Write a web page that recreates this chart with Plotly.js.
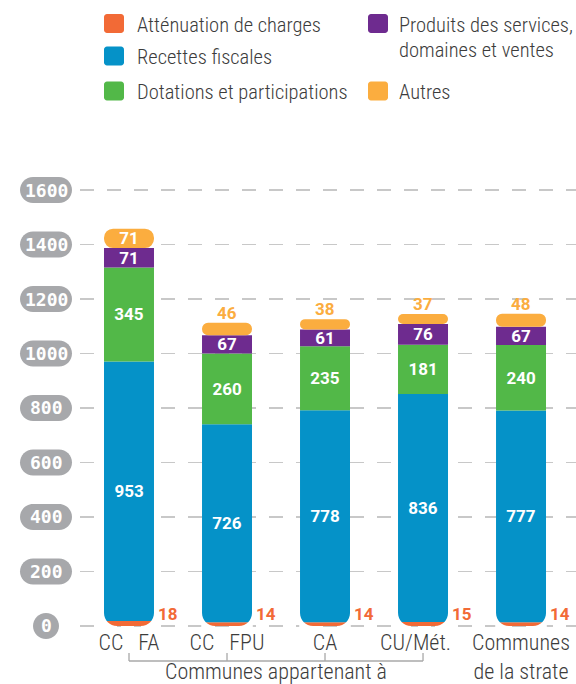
<!DOCTYPE html>
<html><head><meta charset="utf-8">
<script src="https://cdn.plot.ly/plotly-3.0.1.min.js"></script>
<style>html,body{margin:0;padding:0;background:#fff}#chart{width:576px;height:684px}</style>
</head><body><div id="chart"></div>
<script>
// ---- data ----
const categories = ['CC FA', 'CC FPU', 'CA', 'CU/Mét.', 'Communes de la strate'];
const tickLabels = ['CC\u00a0\u00a0\u00a0FA', 'CC\u00a0\u00a0\u00a0FPU', 'CA', 'CU/Mét.\u00a0\u00a0\u00a0', 'Communes<br>de la strate'];
const seriesNames = ['Atténuation de charges', 'Recettes fiscales', 'Dotations et participations', 'Produits des services,<br>domaines et ventes', 'Autres'];
const attenuation = [18, 14, 14, 15, 14];
const recettes = [953, 726, 778, 836, 777];
const dotations = [345, 260, 235, 181, 240];
const produits = [71, 67, 61, 76, 67];
const autres = [71, 46, 38, 37, 48];
const yTicks = [0, 200, 400, 600, 800, 1000, 1200, 1400, 1600];
const groupLabel = 'Communes appartenant à';
const groupMembers = [0, 1, 2, 3];

// ---- style ----
const C = {orange:'#f26a36', blue:'#0592c8', green:'#52b848', purple:'#6e2b8f', yellow:'#fbad3f',
           pill:'#a7a8ab', grid:'#c8c8c8', text:'#3c3c3c', bracket:'#a8a8a8'};
const txtFont = {family: 'Roboto Condensed, Roboto, sans-serif', size: 22, color: C.text, weight: 300};
const legFont = Object.assign({}, txtFont, {size: 20.5});
const numFont = 'Roboto, sans-serif';
const R0 = -14.7, R1 = 1746.8;           // y range
const XR = [-0.5, 4.561];                // x range
const L = 80, W = 496, T = 150, H = 480;  // plot area in px
const px2x = px => (px - L) / W;
const py2y = py => (T + H - py) / H;
const v2y = v => (v - R0) / (R1 - R0);

const lowTop = attenuation.map((v, i) => v + recettes[i]);
const greenTop = lowTop.map((v, i) => v + dotations[i]);
const purpleTop = greenTop.map((v, i) => v + produits[i]);
const total = purpleTop.map((v, i) => v + autres[i]);

const BW = 0.51, RAD = 13;
const inFont = {family: numFont, size: 17, color: '#ffffff', weight: 700};
const common = {type: 'bar', x: categories, width: BW, hoverinfo: 'skip', showlegend: false,
                constraintext: 'none', textangle: 0, cliponaxis: false};
// "Autres" label: inside the bar when the segment is tall enough, otherwise above it
const autresInside = autres.map(v => v >= 60);

const traces = [
  Object.assign({}, common, {name: seriesNames[0], y: attenuation, base: attenuation.map(() => 0),
    marker: {color: C.orange, cornerradius: 0, line: {width: 0}}}),
  Object.assign({}, common, {name: seriesNames[1], y: recettes, base: attenuation,
    marker: {color: C.blue, cornerradius: 0, line: {width: 0}},
    text: recettes.map(String), textposition: 'inside', insidetextanchor: 'middle', insidetextfont: inFont}),
  Object.assign({}, common, {name: seriesNames[2], y: dotations, base: lowTop,
    marker: {color: C.green, cornerradius: 0, line: {width: 0}},
    text: dotations.map(String), textposition: 'inside', insidetextanchor: 'middle', insidetextfont: inFont}),
  Object.assign({}, common, {name: seriesNames[3], y: produits, base: greenTop,
    marker: {color: C.purple, cornerradius: 0, line: {width: 0}},
    text: produits.map(String), textposition: 'inside', insidetextanchor: 'middle', insidetextfont: inFont}),
  Object.assign({}, common, {name: seriesNames[4], y: autres, base: purpleTop,
    marker: {color: C.yellow, cornerradius: RAD, line: {width: 0}},
    text: autres.map(String), textposition: autresInside.map(b => b ? 'inside' : 'none'),
    insidetextanchor: 'middle', insidetextfont: inFont})
];

function rrect(x0, y0, x1, y1, r) {
  const k = 0.5523 * r;
  return `M${x0 + r},${y0} L${x1 - r},${y0} C${x1 - r + k},${y0} ${x1},${y0 + r - k} ${x1},${y0 + r} ` +
         `L${x1},${y1 - r} C${x1},${y1 - r + k} ${x1 - r + k},${y1} ${x1 - r},${y1} ` +
         `L${x0 + r},${y1} C${x0 + r - k},${y1} ${x0},${y1 - r + k} ${x0},${y1 - r} ` +
         `L${x0},${y0 + r} C${x0},${y0 + r - k} ${x0 + r - k},${y0} ${x0 + r},${y0} Z`;
}

const shapes = [], annotations = [];

// rounded bottom corners of each bar (white corner masks, anchored on the bar foot)
const halfPx = BW * W / (XR[1] - XR[0]) / 2;
const kk = 0.5523 * RAD;
categories.forEach((c, i) => {
  [-1, 1].forEach(s => {
    const e = s * halfPx, o = s * (halfPx + 0.8), ic = s * (halfPx - RAD), ck = s * (halfPx - RAD + kk);
    shapes.push({type: 'path', xref: 'x', yref: 'y', xsizemode: 'pixel', ysizemode: 'pixel',
      xanchor: i, yanchor: 0, layer: 'above', fillcolor: '#ffffff', line: {width: 0},
      path: `M${o},-1.5 L${o},${RAD} L${e},${RAD} C${e},${RAD - kk} ${ck},0 ${ic},0 L${ic},-1.5 Z`});
  });
});

// "Autres" labels above short segments
autres.forEach((v, i) => {
  if (autresInside[i]) return;
  annotations.push({xref: 'x', yref: 'y', x: categories[i], y: total[i], yanchor: 'bottom', yshift: -2,
    xanchor: 'center', text: String(v), showarrow: false,
    font: {family: numFont, size: 17, color: C.yellow, weight: 700}});
});

// y tick pills
yTicks.forEach(v => {
  const w = v === 0 ? 26 : 52, h = 26;
  shapes.push({type: 'path', xref: 'paper', yref: 'paper', xsizemode: 'pixel', ysizemode: 'pixel',
    xanchor: 0, yanchor: v2y(v), path: rrect(-34 - w / 2, -h / 2, -34 + w / 2, h / 2, 13),
    fillcolor: C.pill, line: {width: 0}, layer: 'above'});
  annotations.push({xref: 'paper', yref: 'paper', x: 0, xshift: -34, y: v2y(v), yshift: 0,
    text: String(v), showarrow: false, xanchor: 'center', yanchor: 'middle',
    font: {family: 'DejaVu Sans Mono, monospace', size: 18, color: '#ffffff', weight: 700}});
});

// orange value labels to the right of each bar
attenuation.forEach((v, i) => {
  annotations.push({xref: 'x', yref: 'y', x: categories[i], xshift: 39, y: 0, yanchor: 'bottom',
    xanchor: 'center', text: String(v), showarrow: false,
    font: {family: numFont, size: 17, color: C.orange, weight: 700}});
});

// group bracket
const gy = py2y(661), gyTop = py2y(653);
shapes.push({type: 'line', xref: 'x', yref: 'paper', x0: groupMembers[0], x1: groupMembers[groupMembers.length - 1],
  y0: gy, y1: gy, line: {color: C.bracket, width: 1.3}});
groupMembers.forEach(i => shapes.push({type: 'line', xref: 'x', yref: 'paper', x0: i, x1: i,
  y0: gy, y1: gyTop, line: {color: C.bracket, width: 1.3}}));
annotations.push({xref: 'x', yref: 'paper', x: (groupMembers[0] + groupMembers[groupMembers.length - 1]) / 2,
  y: py2y(657), yanchor: 'top', xanchor: 'center', text: groupLabel, showarrow: false, font: txtFont});

// legend (manual layout)
const legendItems = [
  {s: 0, color: C.orange, bx: 114, by: 23.5, tx: 135, ty: 25},
  {s: 1, color: C.blue, bx: 114, by: 56, tx: 135, ty: 57},
  {s: 2, color: C.green, bx: 114, by: 91, tx: 135, ty: 92},
  {s: 3, color: C.purple, bx: 378, by: 23.5, tx: 397, ty: 25},
  {s: 4, color: C.yellow, bx: 378, by: 91, tx: 397, ty: 92}
];
legendItems.forEach(it => {
  shapes.push({type: 'path', xref: 'paper', yref: 'paper', xsizemode: 'pixel', ysizemode: 'pixel',
    xanchor: px2x(it.bx), yanchor: py2y(it.by), path: rrect(-10, -9.5, 10, 9.5, 3),
    fillcolor: it.color, line: {width: 0}});
  seriesNames[it.s].split('<br>').forEach((line, j) => {
    annotations.push({xref: 'paper', yref: 'paper', x: px2x(it.tx), y: py2y(it.ty + j * 25),
      xanchor: 'left', yanchor: 'middle', text: line, showarrow: false, font: legFont});
  });
});

const layout = {
  width: 576, height: 684,
  margin: {l: L, r: 576 - L - W, t: T, b: 684 - T - H},
  paper_bgcolor: '#ffffff', plot_bgcolor: '#ffffff',
  barmode: 'overlay', hovermode: false, showlegend: false,
  uniformtext: {mode: 'show', minsize: 17},
  xaxis: {type: 'category', range: XR, tickvals: categories, ticktext: tickLabels,
    tickangle: 0, tickfont: txtFont, ticklabelstandoff: -3, showgrid: false, zeroline: false,
    showline: false, ticks: '', fixedrange: true},
  yaxis: {range: [R0, R1], tickvals: yTicks, showticklabels: false, showgrid: true,
    gridcolor: C.grid, griddash: '14px,13px', gridwidth: 1.4, zeroline: false, showline: false,
    ticks: '', fixedrange: true},
  shapes: shapes, annotations: annotations
};

Plotly.newPlot('chart', traces, layout, {displayModeBar: false, staticPlot: true});
</script></body></html>
